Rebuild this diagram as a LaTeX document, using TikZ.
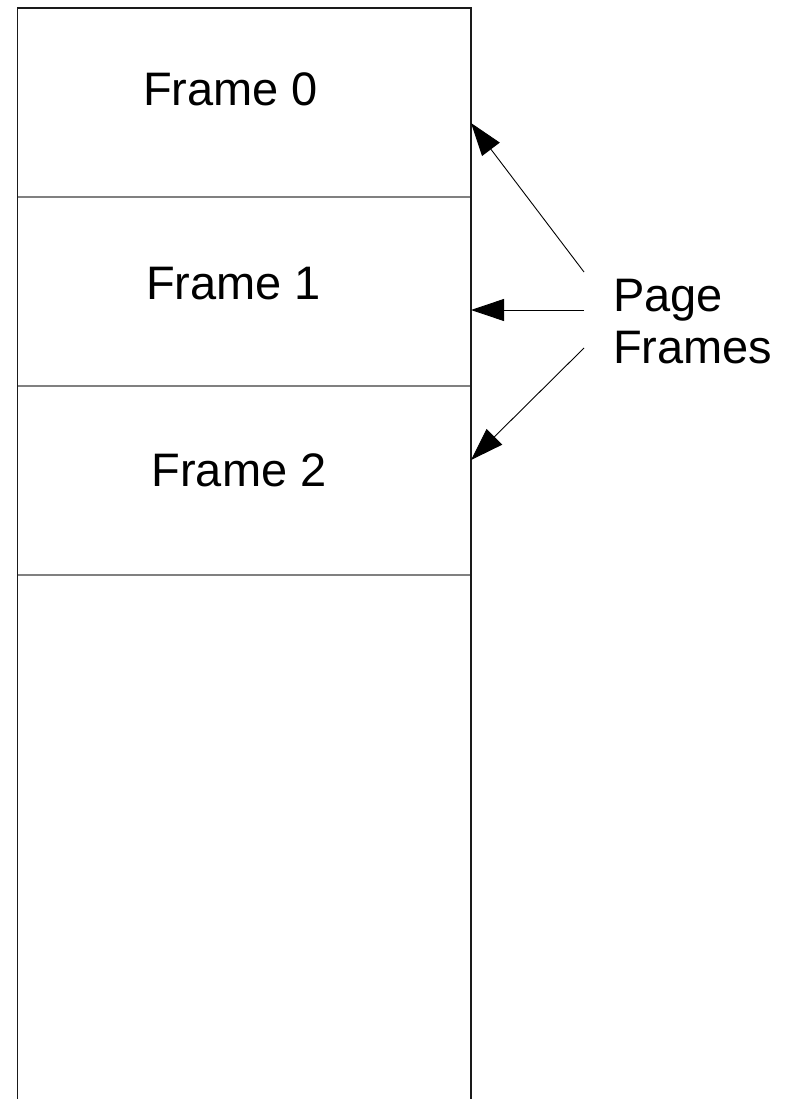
\documentclass[tikz,border=0pt]{standalone}
\usepackage{fontspec}
\setmainfont{Liberation Sans}
\usetikzlibrary{arrows.meta}
\definecolor{rule}{HTML}{808080}
\definecolor{edge}{HTML}{1A1A1A}
\begin{document}
\begin{tikzpicture}[x=1pt,y=-1pt,
  cell/.style={minimum width=453.5pt,minimum height=189pt,inner sep=0pt,outer sep=0pt},
  divider/.style={draw=rule,line width=2pt},
  outline/.style={draw=edge,line width=1.5pt},
  label/.style={font=\fontsize{47}{52}\selectfont,inner sep=0pt,anchor=base},
  pointer/.style={line width=0.9pt,-{Triangle[length=33pt,width=22pt]}}]
  \useasboundingbox (0,0) rectangle (797,1099);
  \clip (0,0) rectangle (797,1099);
  % memory cells
  \node[cell] (f0) at (244.25,102.5) {};
  \node[cell] (f1) at (244.25,291.5) {};
  \node[cell] (f2) at (244.25,480.5) {};
  \node[cell,minimum height=530pt] (rest) at (244.25,840) {};
  \draw[divider] (f0.south west) -- (f0.south east);
  \draw[divider] (f1.south west) -- (f1.south east);
  \draw[divider] (f2.south west) -- (f2.south east);
  \draw[outline] (rest.south west) -- (f0.north west) -- (f0.north east) -- (rest.south east);
  % cell labels
  \node[label] (t0) at (230.5,106) {Frame 0};
  \node[label] (t1) at (233.5,299) {Frame 1};
  \node[label] (t2) at (239,486) {Frame 2};
  % side label (base anchor sits on the last line)
  \node[font=\fontsize{47}{52}\selectfont,inner sep=0pt,align=left,anchor=base west] (pf) at (613,363) {Page\\Frames};
  % pointers
  \coordinate (a0) at (584,272);
  \coordinate (a1) at (584,310);
  \coordinate (a2) at (584,348);
  \coordinate (b0) at (471,123);
  \coordinate (b1) at (471,310);
  \coordinate (b2) at (471,460);
  \draw[pointer] (a0) -- (b0);
  \draw[pointer] (a1) -- (b1);
  \draw[pointer] (a2) -- (b2);
\end{tikzpicture}
\end{document}
